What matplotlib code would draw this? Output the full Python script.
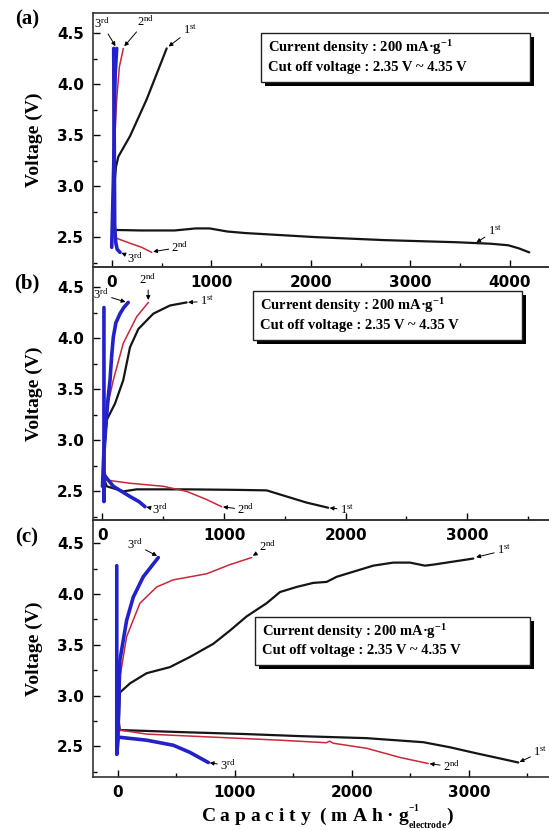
import numpy as np
import matplotlib.pyplot as plt
from matplotlib.patches import Rectangle
from matplotlib.ticker import MultipleLocator
import matplotlib.patheffects as pe

plt.rcParams['mathtext.default'] = 'regular'

# capacity (mAh/g) and voltage (V) for each cycle, panel (a)
a_dis1_x = [20, 32, 300, 631, 843, 984, 1160, 1337, 2042, 2748, 3453, 3806, 3982, 4088, 4194]
a_dis1_y = [2.60, 2.57, 2.565, 2.565, 2.585, 2.585, 2.555, 2.54, 2.50, 2.47, 2.45, 2.435, 2.42, 2.39, 2.35]
a_chg1_x = [20, 30, 43, 67, 184, 351, 552]
a_chg1_y = [2.60, 3.05, 3.19, 3.29, 3.49, 3.85, 4.35]
a_dis2_x = [10, 20, 30, 45, 100, 184, 300, 402]
a_dis2_y = [4.30, 3.50, 2.70, 2.49, 2.47, 2.44, 2.40, 2.35]
a_chg2_x = [0, 15, 25, 33, 50, 77, 117]
a_chg2_y = [2.45, 2.90, 3.30, 3.52, 3.85, 4.17, 4.35]
a_dis3_x = [20, 25, 30, 40, 55, 84]
a_dis3_y = [4.35, 3.50, 2.60, 2.45, 2.38, 2.35]
a_chg3_x = [0, 10, 20, 30, 35, 50]
a_chg3_y = [2.40, 2.80, 3.20, 3.90, 4.10, 4.35]

# panel (b)
b_dis1_x = [20, 35, 171, 281, 700, 1100, 1350, 1515, 1680, 1857]
b_dis1_y = [2.60, 2.55, 2.50, 2.52, 2.52, 2.515, 2.51, 2.45, 2.39, 2.34]
b_chg1_x = [15, 35, 103, 171, 226, 295, 418, 555, 692]
b_chg1_y = [2.90, 3.20, 3.36, 3.59, 3.91, 4.09, 4.24, 4.32, 4.35]
b_dis2_x = [12, 20, 35, 226, 500, 692, 857, 980]
b_dis2_y = [4.30, 2.70, 2.61, 2.58, 2.55, 2.50, 2.42, 2.35]
b_chg2_x = [0, 15, 25, 35, 89, 171, 281, 377]
b_chg2_y = [2.55, 2.90, 3.15, 3.30, 3.59, 3.95, 4.21, 4.35]
b_dis3_x = [12, 12, 14, 21, 89, 226, 300, 350]
b_dis3_y = [4.30, 2.40, 2.62, 2.65, 2.55, 2.45, 2.40, 2.35]
b_chg3_x = [0, 10, 25, 45, 62, 75, 89, 110, 144, 175, 212]
b_chg3_y = [2.55, 2.85, 3.10, 3.40, 3.59, 3.82, 4.01, 4.15, 4.24, 4.30, 4.35]

# panel (c)
c_dis1_x = [0, 17, 530, 1100, 1556, 2126, 2610, 2838, 3066, 3265, 3422]
c_dis1_y = [2.80, 2.66, 2.64, 2.62, 2.60, 2.58, 2.54, 2.49, 2.43, 2.38, 2.34]
c_chg1_x = [0, 10, 17, 103, 245, 444, 615, 815, 957, 1100, 1271, 1385, 1527, 1669, 1784,
            1869, 2011, 2182, 2353, 2496, 2624, 2695, 2866, 3037]
c_chg1_y = [2.55, 2.80, 3.03, 3.12, 3.22, 3.28, 3.38, 3.51, 3.64, 3.78, 3.91, 4.02, 4.07, 4.11, 4.12,
            4.17, 4.22, 4.28, 4.31, 4.31, 4.28, 4.29, 4.32, 4.35]
c_dis2_x = [0, 17, 245, 815, 1385, 1780, 1810, 1840, 2126, 2410, 2652]
c_dis2_y = [2.75, 2.66, 2.62, 2.59, 2.56, 2.535, 2.55, 2.53, 2.48, 2.39, 2.33]
c_chg2_x = [0, 10, 17, 74, 188, 331, 473, 758, 957, 1143]
c_chg2_y = [2.60, 2.90, 3.18, 3.58, 3.91, 4.07, 4.14, 4.20, 4.29, 4.36]
c_dis3_x = [-10, -10, 3, 245, 473, 615, 772]
c_dis3_y = [4.28, 2.42, 2.59, 2.56, 2.51, 2.44, 2.34]
c_chg3_x = [0, 8, 17, 74, 131, 216, 345]
c_chg3_y = [2.60, 3.00, 3.35, 3.74, 3.97, 4.17, 4.36]

# cycle labels: text, point on curve, text position
a_notes = [('3$^{rd}$', (45, 4.36), (-97, 4.59)), ('2$^{nd}$', (117, 4.36), (335, 4.61)),
           ('1$^{st}$', (560, 4.36), (787, 4.53)), ('2$^{nd}$', (402, 2.355), (686, 2.40)),
           ('3$^{rd}$', (84, 2.35), (234, 2.29)), ('1$^{st}$', (3650, 2.44), (3848, 2.56))]
b_notes = [('3$^{rd}$', (200, 4.35), (-12, 4.43)), ('2$^{nd}$', (377, 4.36), (374, 4.57)),
           ('1$^{st}$', (692, 4.35), (860, 4.36)), ('3$^{rd}$', (350, 2.35), (470, 2.32)),
           ('2$^{nd}$', (980, 2.35), (1180, 2.32)), ('1$^{st}$', (1857, 2.34), (2010, 2.32))]
c_notes = [('3$^{rd}$', (345, 4.37), (145, 4.49)), ('2$^{nd}$', (1143, 4.37), (1280, 4.47)),
           ('1$^{st}$', (3050, 4.36), (3300, 4.43)), ('3$^{rd}$', (772, 2.34), (940, 2.31)),
           ('2$^{nd}$', (2652, 2.33), (2850, 2.30)), ('1$^{st}$', (3422, 2.34), (3610, 2.44))]

yticks = [2.5, 3.0, 3.5, 4.0, 4.5]
box_lines = ['Current density : 200 mA·g$^{-1}$', 'Cut off voltage : 2.35 V ~ 4.35 V']

SERIF = 'Liberation Serif'
BLACK, RED, BLUE = '#151515', '#c8283a', '#2222c8'


def draw_panel(ax, curves, notes, xlim, ylim, box):
    for x, y, c, lw in curves:
        ax.plot(x, y, color=c, lw=lw, solid_capstyle='round', zorder=3)
    for txt, xy, xyt in notes:
        ax.annotate(txt, xy=xy, xytext=xyt, ha='center', va='center',
                    fontsize=9, family=SERIF,
                    arrowprops=dict(arrowstyle='-|>', color='k', lw=0.7,
                                    mutation_scale=6, shrinkA=0, shrinkB=1))
    ax.set_xlim(*xlim)
    ax.set_ylim(*ylim)
    ax.set_facecolor('none')
    ax.set_yticks(yticks)
    ax.xaxis.set_major_locator(MultipleLocator(1000))
    ax.xaxis.set_minor_locator(MultipleLocator(500))
    ax.yaxis.set_minor_locator(MultipleLocator(0.25))
    ax.tick_params(which='both', direction='in', top=False, right=False, width=1)
    ax.tick_params(which='major', length=5)
    ax.tick_params(which='minor', length=3)
    ax.tick_params(axis='y', pad=7)
    ax.tick_params(axis='x', pad=6)
    for lab in ax.get_xticklabels() + ax.get_yticklabels():
        lab.set_fontfamily('DejaVu Sans')
        lab.set_fontweight('bold')
        lab.set_fontsize(11)
    for s in ax.spines.values():
        s.set_linewidth(1.2)
        s.set_color('#333333')
    ax.set_ylabel('Voltage (V)', family=SERIF, fontweight='bold', fontsize=14)
    ax.yaxis.set_label_coords(-0.11, 0.5)

    # framed note with a drop shadow
    x0, y0, x1, y1 = box
    rect = Rectangle((x0, y0), x1 - x0, y1 - y0, transform=ax.transAxes,
                     facecolor='white', edgecolor='#222222', lw=1.0, zorder=5,
                     path_effects=[pe.SimplePatchShadow(offset=(3, -3), shadow_rgbFace='k', alpha=1),
                                   pe.Normal()])
    ax.add_patch(rect)
    h = y1 - y0
    ax.text(x0 + 0.015, y1 - 0.3 * h, box_lines[0], transform=ax.transAxes, va='center',
            family=SERIF, fontweight='bold', fontsize=10.5, zorder=6)
    ax.text(x0 + 0.015, y0 + 0.3 * h, box_lines[1], transform=ax.transAxes, va='center',
            family=SERIF, fontweight='bold', fontsize=10.5, zorder=6)


fig = plt.figure(figsize=(5.49, 8.30), dpi=100)
left, width = 0.1703, 0.835
ax_a = fig.add_axes([left, 0.6787, width, 0.3060])
ax_b = fig.add_axes([left, 0.3735, width, 0.3052])
ax_c = fig.add_axes([left, 0.0642, width, 0.3093])

draw_panel(ax_a,
           [(a_dis1_x, a_dis1_y, BLACK, 1.6), (a_chg1_x, a_chg1_y, BLACK, 1.6),
            (a_dis2_x, a_dis2_y, RED, 1.1), (a_chg2_x, a_chg2_y, RED, 1.1),
            (a_dis3_x, a_dis3_y, BLUE, 2.6), (a_chg3_x, a_chg3_y, BLUE, 2.6)],
           a_notes, (-183, 4421), (2.21, 4.70), (0.365, 0.727, 0.952, 0.920))
draw_panel(ax_b,
           [(b_dis1_x, b_dis1_y, BLACK, 1.6), (b_chg1_x, b_chg1_y, BLACK, 1.6),
            (b_dis2_x, b_dis2_y, RED, 1.1), (b_chg2_x, b_chg2_y, RED, 1.1),
            (b_dis3_x, b_dis3_y, BLUE, 2.6), (b_chg3_x, b_chg3_y, BLUE, 2.6)],
           b_notes, (-74, 3697), (2.22, 4.70), (0.348, 0.711, 0.935, 0.904))
draw_panel(ax_c,
           [(c_dis1_x, c_dis1_y, BLACK, 1.6), (c_chg1_x, c_chg1_y, BLACK, 1.6),
            (c_dis2_x, c_dis2_y, RED, 1.1), (c_chg2_x, c_chg2_y, RED, 1.1),
            (c_dis3_x, c_dis3_y, BLUE, 2.6), (c_chg3_x, c_chg3_y, BLUE, 2.6)],
           c_notes, (-209, 3709), (2.20, 4.73), (0.352, 0.435, 0.952, 0.622))

for lbl, yy in [('(a)', 0.976), ('(b)', 0.658), ('(c)', 0.353)]:
    fig.text(0.049, yy, lbl, ha='center', va='center', family=SERIF,
             fontweight='bold', fontsize=15)

# small stacked unit scripts under the axis title
fig.text(0.597, 0.016, 'C a p a c i t y  ( m A h · g$^{{}^{-1}}_{{}_{electrode}}$)',
         ha='center', va='center', family=SERIF, fontweight='bold', fontsize=14)

fig.savefig('out.png', dpi=100)
